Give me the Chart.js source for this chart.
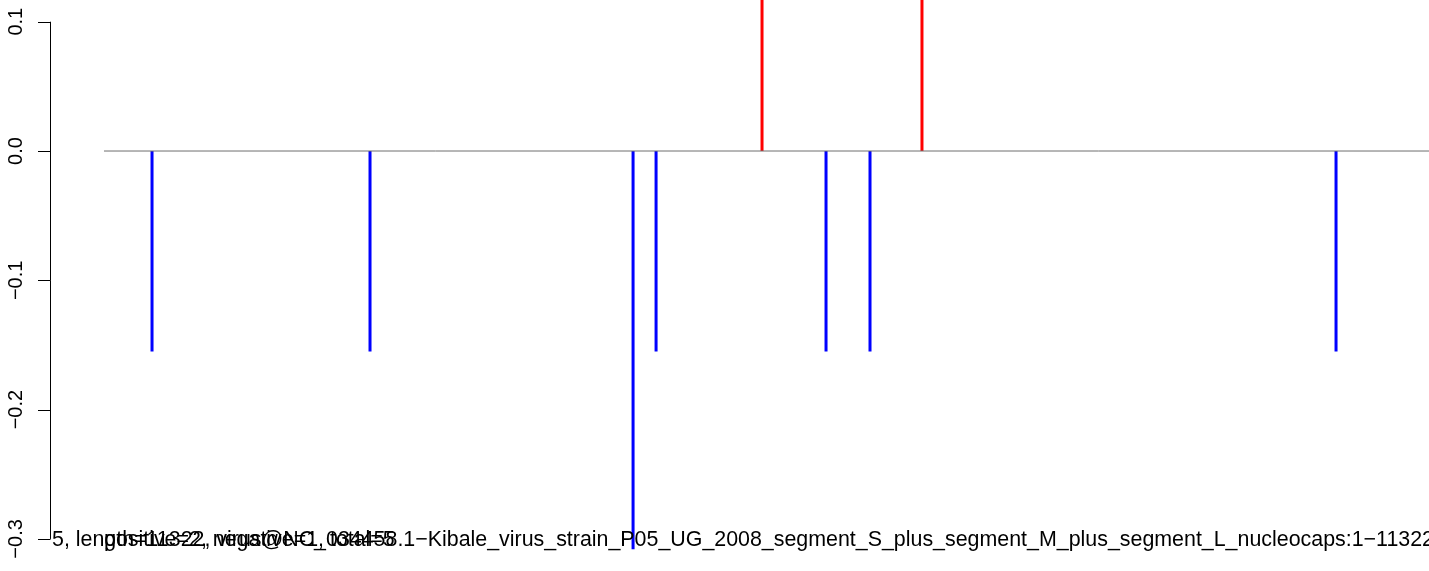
<!DOCTYPE html>
<html lang="en">
<head>
<meta charset="UTF-8">
<title>stems</title>
<script src="https://cdn.jsdelivr.net/npm/chart.js"></script>
<style>
  * { margin: 0; padding: 0; box-sizing: border-box; }
  body { background: #fff; }
  #wrap { width: 1429px; height: 571px; }
</style>
</head>
<body>
<div id="wrap"><canvas id="plot"></canvas></div>
<script>
// genome positions and scores
const negPos = [404, 2233, 4440, 4633, 6059, 6428, 10338];
const negVal = [-0.155, -0.155, -0.308, -0.155, -0.155, -0.155, -0.155];
const posPos = [5522, 6864];
const posVal = [0.31, 0.31];
const yTicks = [-0.3, -0.2, -0.1, 0.0, 0.1];
const seqLen = 11322;
const label1 = "5, length=11322, virus@NC_034458.1\u2212Kibale_virus_strain_P05_UG_2008_segment_S_plus_segment_M_plus_segment_L_nucleocaps:1\u221211322";
const label2 = "positive=2, negative=1, total=5";

const TICKFONT = "20px 'Liberation Sans', Arial, sans-serif";
const TEXTFONT = "21.4px 'Liberation Sans', Arial, sans-serif";

// one small dataset per stem
function stems(xs, ys, color) {
  return xs.map((x, i) => ({
    data: [{ x: x, y: 0 }, { x: x, y: ys[i] }],
    borderColor: color,
    borderWidth: 3,
    pointRadius: 0,
    showLine: true
  }));
}

const datasets = [{
  data: [{ x: 1, y: 0 }, { x: seqLen, y: 0 }],
  borderColor: '#6e6e6e',
  borderWidth: 1,
  pointRadius: 0,
  showLine: true
}].concat(stems(negPos, negVal, '#0000ff'), stems(posPos, posVal, '#ff0000'));

// R-style left axis + bottom text
const rAxis = {
  id: 'rAxis',
  afterDraw(chart) {
    const ctx = chart.ctx;
    const y = chart.scales.y;
    const xs = chart.scales.x;
    const ax = chart.chartArea.left;
    ctx.save();
    ctx.strokeStyle = '#000';
    ctx.lineWidth = 1;
    ctx.beginPath();
    ctx.moveTo(ax + 0.5, y.getPixelForValue(yTicks[yTicks.length - 1]));
    ctx.lineTo(ax + 0.5, y.getPixelForValue(yTicks[0]));
    yTicks.forEach(t => {
      const py = Math.round(y.getPixelForValue(t)) + 0.5;
      ctx.moveTo(ax - 12, py);
      ctx.lineTo(ax + 0.5, py);
    });
    ctx.stroke();

    ctx.fillStyle = '#000';
    ctx.font = TICKFONT;
    ctx.textAlign = 'center';
    ctx.textBaseline = 'alphabetic';
    yTicks.forEach(t => {
      const py = y.getPixelForValue(t);
      ctx.save();
      ctx.translate(22, py);
      ctx.rotate(-Math.PI / 2);
      ctx.fillText(t.toFixed(1).replace('-', '\u2212'), 0, 0);
      ctx.restore();
    });

    ctx.font = TEXTFONT;
    ctx.textAlign = 'left';
    ctx.fillText(label1, ax + 2, 546);
    ctx.fillText(label2, xs.getPixelForValue(1), 546);
    ctx.restore();
  }
};

new Chart(document.getElementById('plot'), {
  type: 'scatter',
  data: { datasets: datasets },
  options: {
    responsive: true,
    maintainAspectRatio: false,
    animation: false,
    layout: { padding: { left: 50, right: 0, top: 0, bottom: 0 } },
    plugins: { legend: { display: false }, tooltip: { enabled: false } },
    scales: {
      x: { type: 'linear', min: -452, max: 11118, display: false },
      y: { type: 'linear', min: -0.3248, max: 0.1168, display: false }
    }
  },
  plugins: [rAxis]
});
</script>
</body>
</html>
